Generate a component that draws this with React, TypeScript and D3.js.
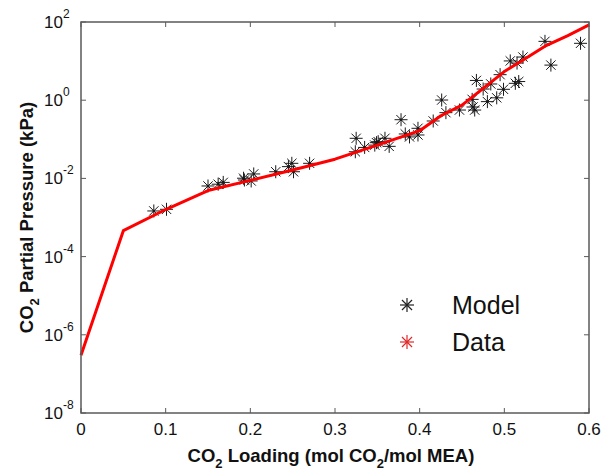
import React from 'react';
import * as d3 from 'd3';

// model curve (CO2 loading vs partial pressure, kPa)
const curveLoading = [0, 0.05, 0.1, 0.15, 0.2, 0.25, 0.3, 0.35, 0.4, 0.425, 0.45, 0.475, 0.5, 0.525, 0.548, 0.575, 0.6];
const curvePressure = [3e-7, 4.6e-4, 1.6e-3, 4.9e-3, 8.9e-3, 0.0164, 0.031, 0.071, 0.166, 0.4, 0.75, 2.0, 5.4, 11.7, 24, 45, 84];

// scattered points
const pointLoading = [
  0.086, 0.101, 0.15, 0.162, 0.168, 0.192, 0.193, 0.204, 0.201, 0.23,
  0.245, 0.249, 0.251, 0.27, 0.325, 0.324, 0.335, 0.347, 0.349, 0.351,
  0.359, 0.364, 0.378, 0.383, 0.388, 0.398, 0.398, 0.416, 0.426, 0.431,
  0.447, 0.462, 0.463, 0.465, 0.467, 0.475, 0.48, 0.484, 0.491, 0.495,
  0.499, 0.507, 0.513, 0.517, 0.515, 0.522, 0.548, 0.555, 0.59,
];
const pointPressure = [
  1.47e-3, 1.62e-3, 6.4e-3, 7.1e-3, 7.9e-3, 0.0101, 0.0091, 0.013, 0.0086, 0.0148,
  0.02, 0.0243, 0.0148, 0.0243, 0.106, 0.048, 0.062, 0.071, 0.082, 0.087,
  0.106, 0.066, 0.317, 0.137, 0.115, 0.191, 0.129, 0.294, 1.01, 0.48,
  0.56, 1.05, 0.67, 0.56, 3.2, 1.93, 0.92, 2.6, 1.15, 4.5,
  1.9, 10.1, 2.7, 3.0, 8.9, 12.7, 32, 7.9, 28.5,
];

const xTicks = [0, 0.1, 0.2, 0.3, 0.4, 0.5, 0.6];
const yExponents = [-8, -6, -4, -2, 0, 2];
const legendLabels = ['Model', 'Data'];

const W = 605;
const H = 471;
const margin = { top: 22, right: 16, bottom: 58, left: 81 };
const FONT = '"Liberation Sans", Arial, sans-serif';
const axisColor = '#5a5a5a';

const Asterisk = ({ x, y, r, color, w = 1 }: { x: number; y: number; r: number; color: string; w?: number }) => {
  const d = r * 0.72;
  return (
    <g stroke={color} strokeWidth={w}>
      <line x1={x - r} y1={y} x2={x + r} y2={y} />
      <line x1={x} y1={y - r} x2={x} y2={y + r} />
      <line x1={x - d} y1={y - d} x2={x + d} y2={y + d} />
      <line x1={x - d} y1={y + d} x2={x + d} y2={y - d} />
      <circle cx={x} cy={y} r={1.3} fill={color} stroke="none" />
    </g>
  );
};

export default function App() {
  const x0 = margin.left;
  const x1 = W - margin.right;
  const y0 = H - margin.bottom;
  const y1 = margin.top;

  const x = d3.scaleLinear().domain([0, 0.6]).range([x0, x1]);
  const y = d3.scaleLog().domain([1e-8, 1e2]).range([y0, y1]);

  const line = d3
    .line<number>()
    .x((_, i) => x(curveLoading[i]))
    .y((d) => y(d));

  const tick = 5;

  return (
    <svg width={W} height={H} style={{ position: 'absolute', left: 0, top: 0, background: '#fff' }} fontFamily={FONT}>
      <rect width={W} height={H} fill="#fff" />

      {/* ticks on all four sides */}
      {xTicks.map((t) => (
        <g key={'xt' + t} stroke={axisColor} strokeWidth={1}>
          <line x1={x(t)} x2={x(t)} y1={y0} y2={y0 - tick} />
          <line x1={x(t)} x2={x(t)} y1={y1} y2={y1 + tick} />
        </g>
      ))}
      {yExponents.map((e) => (
        <g key={'yt' + e} stroke={axisColor} strokeWidth={1}>
          <line x1={x0} x2={x0 + tick} y1={y(Math.pow(10, e))} y2={y(Math.pow(10, e))} />
          <line x1={x1} x2={x1 - tick} y1={y(Math.pow(10, e))} y2={y(Math.pow(10, e))} />
        </g>
      ))}

      {/* markers */}
      {pointLoading.map((l, i) => (
        <Asterisk key={'p' + i} x={x(l)} y={y(pointPressure[i])} r={6.5} color="#1a1a1a" />
      ))}

      {/* model line */}
      <path d={line(curvePressure) || ''} fill="none" stroke="#ff0000" strokeWidth={3} strokeLinejoin="round" />

      {/* box */}
      <rect x={x0} y={y1} width={x1 - x0} height={y0 - y1} fill="none" stroke={axisColor} strokeWidth={1.5} />

      {/* x tick labels */}
      {xTicks.map((t) => (
        <text key={'xl' + t} x={x(t)} y={y0 + 22} textAnchor="middle" fontSize={17} fill="#111">
          {t === 0 ? '0' : t.toFixed(1)}
        </text>
      ))}

      {/* y tick labels */}
      {yExponents.map((e) => (
        <text key={'yl' + e} x={x0 - 18} y={y(Math.pow(10, e)) + 6} textAnchor="end" fontSize={17} fill="#111">
          10
        </text>
      ))}
      {yExponents.map((e) => (
        <text key={'ye' + e} x={x0 - 18} y={y(Math.pow(10, e)) - 4} textAnchor="start" fontSize={12} fill="#111">
          {String(e)}
        </text>
      ))}

      {/* axis labels */}
      <text x={(x0 + x1) / 2 - 4} y={H - 9} textAnchor="middle" fontSize={18.5} fontWeight="bold" fill="#111">
        CO
        <tspan fontSize={13} dy={6}>2</tspan>
        <tspan dy={-6}> Loading (mol CO</tspan>
        <tspan fontSize={13} dy={6}>2</tspan>
        <tspan dy={-6}>/mol MEA)</tspan>
      </text>
      <text
        transform={`translate(33, ${(y0 + y1) / 2}) rotate(-90)`}
        textAnchor="middle"
        fontSize={18.5}
        fontWeight="bold"
        fill="#111"
      >
        CO
        <tspan fontSize={13} dy={6}>2</tspan>
        <tspan dy={-6}> Partial Pressure (kPa)</tspan>
      </text>

      {/* legend */}
      {legendLabels.map((lab, i) => (
        <g key={lab}>
          <Asterisk x={407} y={305 + i * 37} r={7} color={i === 0 ? '#222' : '#e02828'} w={1.2} />
          <text x={452} y={314 + i * 37} fontSize={25} fill="#111">
            {lab}
          </text>
        </g>
      ))}
    </svg>
  );
}
